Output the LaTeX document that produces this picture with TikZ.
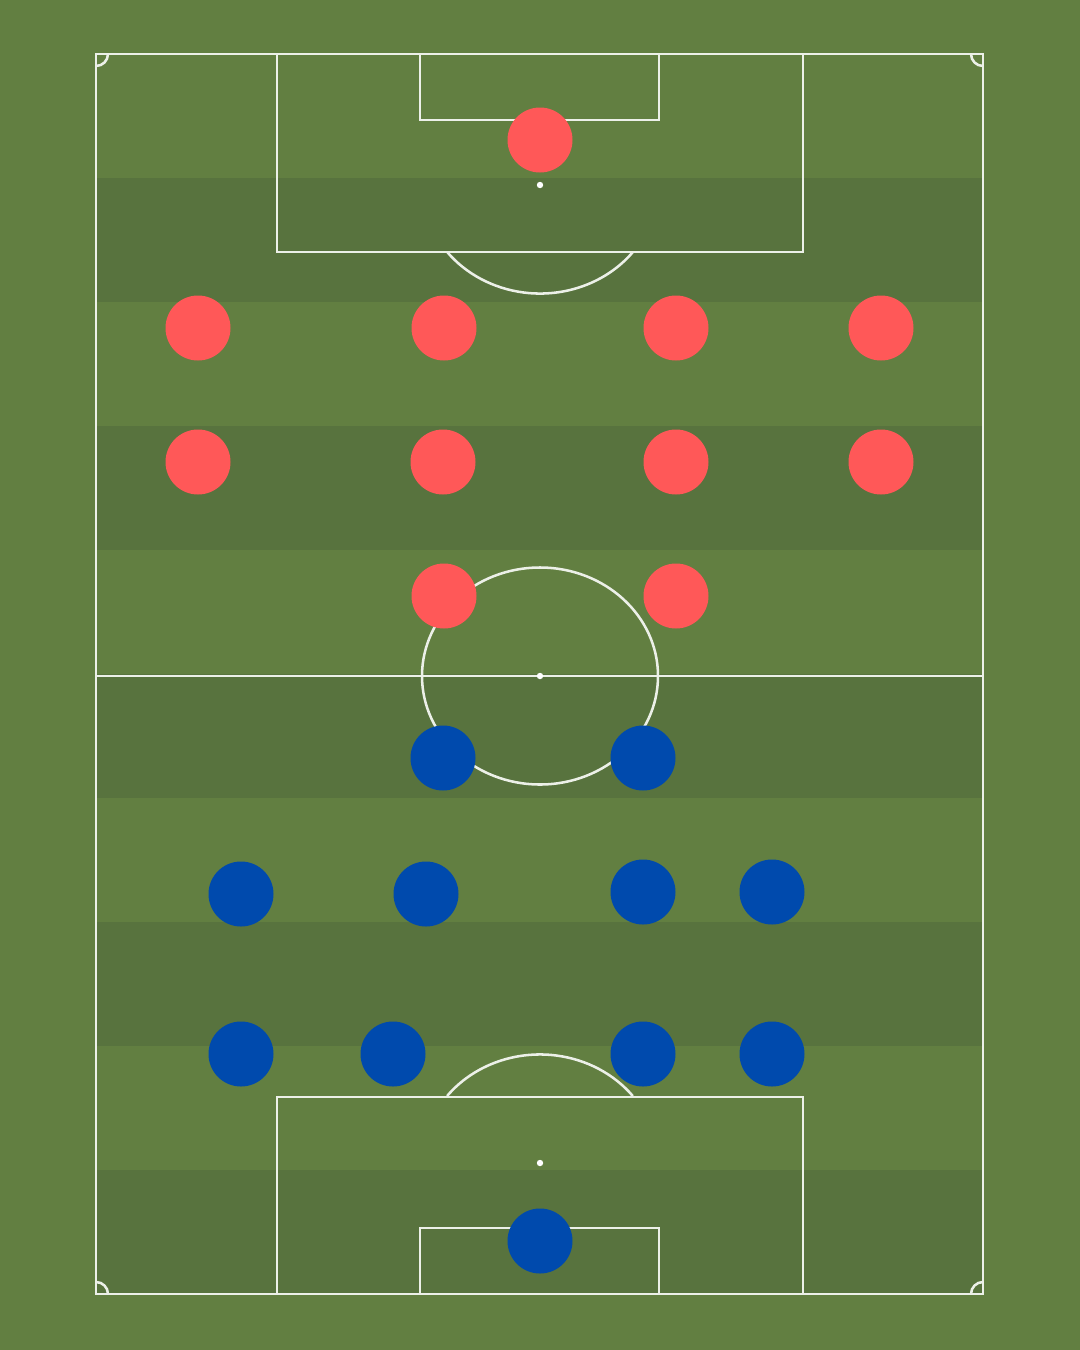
\documentclass[tikz,border=0pt]{standalone}
\usepackage{xcolor}
\usepackage{tikz}

\definecolor{grassA}{HTML}{627F41}
\definecolor{grassB}{HTML}{58733E}
\definecolor{homeRed}{HTML}{FF5858}
\definecolor{awayBlue}{HTML}{004AAD}

\begin{document}
\begin{tikzpicture}[x=0.025cm, y=-0.025cm,
  chalk/.style={draw=white!88!grassA, line width=1.8pt},
  spotdot/.style={fill=white, draw=none},
  redp/.style={fill=homeRed, draw=none},
  bluep/.style={fill=awayBlue, draw=none}]
  % grass and stripes
  \fill[grassA] (0,0) rectangle (1080,1350);
  \foreach \i in {1,3,5,7,9}
    \fill[grassB] (96,{54+124*\i}) rectangle (983,{54+124*(\i+1)});
  % pitch markings
  \draw[chalk] (96,54) rectangle (983,1294);
  \draw[chalk] (96,676) -- (983,676);
  \draw[chalk] (540,676) ellipse [x radius=118, y radius=108.5];
  \draw[chalk] (277,54) rectangle (803,252);
  \draw[chalk] (420,54) rectangle (659,120);
  \draw[chalk] (277,1294) rectangle (803,1097);
  \draw[chalk] (420,1294) rectangle (659,1228);
  \draw[chalk] (632.9,252) arc[start angle=38.1, end angle=141.9, x radius=118, y radius=108.5];
  \draw[chalk] (447.1,1096) arc[start angle=218.1, end angle=321.9, x radius=118, y radius=108.5];
  \draw[chalk] (108,54) arc[start angle=0, end angle=90, radius=12];
  \draw[chalk] (971,54) arc[start angle=180, end angle=90, radius=12];
  \draw[chalk] (96,1282) arc[start angle=270, end angle=360, radius=12];
  \draw[chalk] (971,1294) arc[start angle=180, end angle=270, radius=12];
  \foreach \y in {185,676,1163}
    \fill[spotdot] (540,\y) circle (3.2);
  % players
  \foreach \x/\y in {540/140, 198/328, 444/328, 676/328, 881/328, 198/462, 443/462, 676/462, 881/462, 444/596, 676/596}
    \fill[redp] (\x,\y) circle (32.5);
  \foreach \x/\y in {443/758, 643/758, 241/894, 426/894, 643/892, 772/892, 241/1054, 393/1054, 643/1054, 772/1054, 540/1241}
    \fill[bluep] (\x,\y) circle (32.5);
\end{tikzpicture}
\end{document}
